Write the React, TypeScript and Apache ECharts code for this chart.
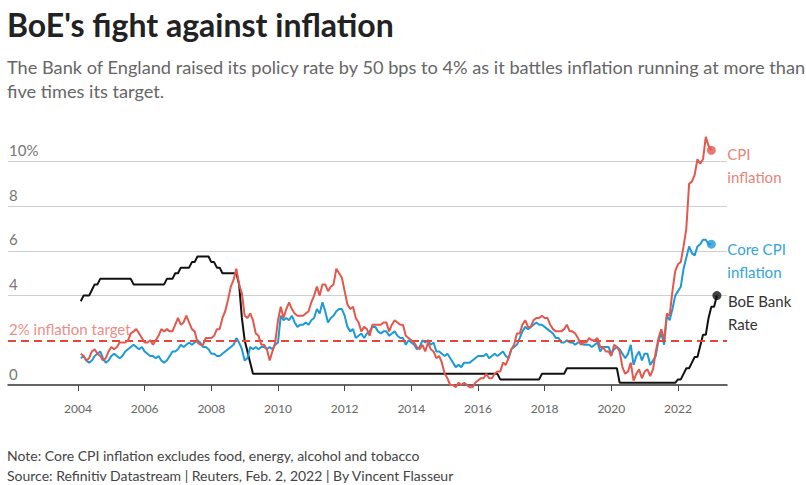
import React, { useEffect, useRef } from "react";
import * as echarts from "echarts";

// Monthly data, Jan 2004 onwards (each value plotted at the end of its month)
const START_YEAR = 2004;

const cpi = [
  1.4, 1.3, 1.1, 1.2, 1.5, 1.6, 1.4, 1.3, 1.1, 1.2, 1.5, 1.7,
  1.6, 1.7, 1.9, 1.9, 1.9, 2.0, 2.3, 2.4, 2.5, 2.3, 2.1, 1.9,
  1.9, 2.0, 1.8, 2.0, 2.2, 2.5, 2.4, 2.5, 2.4, 2.4, 2.7, 3.0,
  2.7, 2.8, 3.1, 2.8, 2.5, 2.4, 1.9, 1.8, 1.8, 2.1, 2.1, 2.1,
  2.2, 2.5, 2.5, 3.0, 3.3, 3.8, 4.4, 4.7, 5.2, 4.5, 4.1, 3.1,
  3.0, 3.2, 2.9, 2.3, 2.2, 1.8, 1.8, 1.6, 1.1, 1.5, 1.9, 2.9,
  3.5, 3.0, 3.4, 3.7, 3.4, 3.2, 3.1, 3.1, 3.1, 3.2, 3.3, 3.7,
  4.0, 4.4, 4.0, 4.5, 4.5, 4.2, 4.4, 4.5, 5.2, 5.0, 4.8, 4.2,
  3.6, 3.4, 3.5, 3.0, 2.8, 2.4, 2.6, 2.5, 2.2, 2.7, 2.7, 2.7,
  2.7, 2.8, 2.8, 2.4, 2.7, 2.9, 2.8, 2.7, 2.7, 2.2, 2.1, 2.0,
  1.9, 1.7, 1.6, 1.8, 1.5, 1.9, 1.6, 1.5, 1.2, 1.3, 1.0, 0.5,
  0.3, 0.0, 0.0, -0.1, 0.1, 0.0, 0.1, 0.0, -0.1, -0.1, 0.1, 0.2,
  0.3, 0.3, 0.5, 0.3, 0.3, 0.5, 0.6, 0.6, 1.0, 0.9, 1.2, 1.6,
  1.8, 2.3, 2.3, 2.7, 2.9, 2.6, 2.6, 2.9, 3.0, 3.0, 3.1, 3.0,
  3.0, 2.7, 2.5, 2.4, 2.4, 2.4, 2.5, 2.7, 2.4, 2.4, 2.3, 2.1,
  1.8, 1.9, 1.9, 2.1, 2.0, 2.0, 2.1, 1.7, 1.7, 1.5, 1.5, 1.3,
  1.8, 1.7, 1.5, 0.8, 0.5, 0.6, 1.0, 0.2, 0.5, 0.7, 0.3, 0.6,
  0.7, 0.4, 0.7, 1.5, 2.1, 2.5, 2.0, 3.2, 3.1, 4.2, 5.1, 5.4,
  5.5, 6.2, 7.0, 9.0, 9.1, 9.4, 10.1, 9.9, 10.1, 11.1, 10.7, 10.5,
];

const coreCpi = [
  1.2, 1.3, 1.1, 1.0, 1.1, 1.3, 1.4, 1.5, 1.2, 1.0, 1.1, 1.3,
  1.4, 1.3, 1.2, 1.3, 1.5, 1.6, 1.7, 1.8, 1.7, 1.6, 1.7, 1.5,
  1.4, 1.3, 1.3, 1.2, 1.3, 1.1, 1.0, 1.1, 1.3, 1.5, 1.5, 1.6,
  1.8, 1.7, 1.8, 1.9, 1.8, 1.9, 2.0, 1.9, 1.7, 1.7, 1.6, 1.4,
  1.4, 1.3, 1.3, 1.4, 1.5, 1.6, 1.7, 1.8, 2.1, 1.9, 1.6, 1.1,
  1.2, 1.7, 1.6, 1.7, 1.6, 1.7, 1.7, 1.6, 1.7, 1.6, 1.8, 1.9,
  3.1, 2.9, 3.0, 2.9, 3.1, 2.8, 2.6, 2.7, 2.7, 2.8, 2.7, 2.9,
  3.0, 3.4, 3.2, 3.7, 3.3, 2.8, 3.0, 3.1, 3.3, 3.4, 3.4, 3.1,
  2.6, 2.4, 2.5, 2.1, 2.2, 2.3, 2.1, 2.3, 2.4, 2.6, 2.6, 2.4,
  2.3, 2.4, 2.4, 2.2, 2.3, 2.4, 2.2, 2.1, 2.1, 1.8, 2.0, 1.9,
  1.8, 1.6, 1.7, 2.0, 1.9, 2.0, 1.8, 1.9, 1.5, 1.5, 1.4, 1.3,
  1.4, 1.2, 1.0, 0.8, 0.9, 0.8, 1.0, 1.0, 1.0, 1.1, 1.2, 1.3,
  1.3, 1.3, 1.4, 1.2, 1.3, 1.4, 1.3, 1.4, 1.5, 1.3, 1.2, 1.6,
  1.7, 1.8, 2.1, 2.4, 2.6, 2.5, 2.6, 2.7, 2.8, 2.7, 2.7, 2.6,
  2.5, 2.4, 2.3, 2.1, 2.1, 1.9, 1.9, 2.0, 1.9, 1.9, 1.8, 1.9,
  1.9, 1.8, 1.8, 1.8, 1.7, 1.8, 1.9, 1.5, 1.7, 1.7, 1.7, 1.4,
  1.6, 1.7, 1.6, 1.4, 1.2, 1.4, 1.8, 0.9, 1.3, 1.5, 1.1, 1.4,
  1.4, 0.9, 1.1, 1.3, 2.0, 2.3, 1.8, 3.1, 2.9, 3.4, 4.0, 4.2,
  4.4, 5.2, 5.7, 6.2, 5.9, 5.8, 6.2, 6.3, 6.5, 6.5, 6.3, 6.3,
];

const bankRate = [
  3.75, 4.0, 4.0, 4.0, 4.25, 4.5, 4.5, 4.75, 4.75, 4.75, 4.75, 4.75,
  4.75, 4.75, 4.75, 4.75, 4.75, 4.75, 4.75, 4.5, 4.5, 4.5, 4.5, 4.5,
  4.5, 4.5, 4.5, 4.5, 4.5, 4.5, 4.5, 4.75, 4.75, 4.75, 5.0, 5.0,
  5.25, 5.25, 5.25, 5.25, 5.5, 5.5, 5.75, 5.75, 5.75, 5.75, 5.75, 5.5,
  5.5, 5.25, 5.25, 5.0, 5.0, 5.0, 5.0, 5.0, 5.0, 4.5, 3.0, 2.0,
  1.5, 1.0, 0.5, 0.5, 0.5, 0.5, 0.5, 0.5, 0.5, 0.5, 0.5, 0.5,
  0.5, 0.5, 0.5, 0.5, 0.5, 0.5, 0.5, 0.5, 0.5, 0.5, 0.5, 0.5,
  0.5, 0.5, 0.5, 0.5, 0.5, 0.5, 0.5, 0.5, 0.5, 0.5, 0.5, 0.5,
  0.5, 0.5, 0.5, 0.5, 0.5, 0.5, 0.5, 0.5, 0.5, 0.5, 0.5, 0.5,
  0.5, 0.5, 0.5, 0.5, 0.5, 0.5, 0.5, 0.5, 0.5, 0.5, 0.5, 0.5,
  0.5, 0.5, 0.5, 0.5, 0.5, 0.5, 0.5, 0.5, 0.5, 0.5, 0.5, 0.5,
  0.5, 0.5, 0.5, 0.5, 0.5, 0.5, 0.5, 0.5, 0.5, 0.5, 0.5, 0.5,
  0.5, 0.5, 0.5, 0.5, 0.5, 0.5, 0.5, 0.25, 0.25, 0.25, 0.25, 0.25,
  0.25, 0.25, 0.25, 0.25, 0.25, 0.25, 0.25, 0.25, 0.25, 0.25, 0.5, 0.5,
  0.5, 0.5, 0.5, 0.5, 0.5, 0.5, 0.5, 0.75, 0.75, 0.75, 0.75, 0.75,
  0.75, 0.75, 0.75, 0.75, 0.75, 0.75, 0.75, 0.75, 0.75, 0.75, 0.75, 0.75,
  0.75, 0.75, 0.1, 0.1, 0.1, 0.1, 0.1, 0.1, 0.1, 0.1, 0.1, 0.1,
  0.1, 0.1, 0.1, 0.1, 0.1, 0.1, 0.1, 0.1, 0.1, 0.1, 0.1, 0.25,
  0.25, 0.5, 0.75, 0.75, 1.0, 1.25, 1.25, 1.75, 2.25, 2.25, 3.0, 3.5,
  3.5, 4.0,
];

const yearTicks = [2004, 2006, 2008, 2010, 2012, 2014, 2016, 2018, 2020, 2022];
const yTickLabels: Record<number, string> = { 0: "0", 4: "4", 6: "6", 8: "8", 10: "10%" };
const seriesLabels = ["CPI\ninflation", "Core CPI\ninflation", "BoE Bank\nRate"];
const targetRate = 2;
const targetLabel = "2% inflation target";

const TITLE = "BoE's fight against inflation";
const SUBTITLE =
  "The Bank of England raised its policy rate by 50 bps to 4% as it battles inflation running at more than\nfive times its target.";
const FOOTNOTE =
  "Note: Core CPI inflation excludes food, energy, alcohol and tobacco\nSource: Refinitiv Datastream | Reuters, Feb. 2, 2022 | By Vincent Flasseur";

const FONT = "Lato";
const RED = "#e4574c";
const BLUE = "#1d9ad6";
const BLACK = "#111111";

function toPoints(values: number[]) {
  return values.map((v, i) => [START_YEAR + (i + 1) / 12, v]);
}

export default function App() {
  const ref = useRef<HTMLDivElement>(null);

  useEffect(() => {
    if (!ref.current) return;
    const chart = echarts.init(ref.current, null, { renderer: "svg" });

    const cpiPts = toPoints(cpi);
    const corePts = toPoints(coreCpi);
    const bankPts = toPoints(bankRate);

    const endLabel = (text: string, color: string, dy: number, dist: number) => ({
      show: true,
      formatter: () => text,
      color,
      fontFamily: FONT,
      fontSize: 15,
      lineHeight: 23,
      distance: dist,
      offset: [0, dy],
    });

    chart.setOption({
      animation: false,
      textStyle: { fontFamily: FONT },
      title: [
        {
          text: TITLE,
          left: 2,
          top: 3,
          textStyle: { fontFamily: FONT, fontSize: 32, fontWeight: "bold", color: "#222" },
        },
        {
          text: SUBTITLE,
          left: 2,
          top: 50,
          textStyle: { fontFamily: FONT, fontSize: 18.2, fontWeight: "normal", color: "#666", lineHeight: 24 },
        },
        {
          text: FOOTNOTE,
          left: 2,
          top: 440,
          textStyle: { fontFamily: FONT, fontSize: 14, fontWeight: "normal", color: "#444", lineHeight: 20 },
        },
      ],
      grid: { left: 8, right: 79, top: 116.8, bottom: 100, containLabel: false },
      xAxis: {
        type: "value",
        min: 2001.9,
        max: 2023.47,
        axisLine: { onZero: true, lineStyle: { color: "#333", width: 1.5 } },
        axisTick: { show: true, customValues: yearTicks, length: 6, lineStyle: { color: "#444", width: 1 } },
        axisLabel: {
          customValues: yearTicks,
          formatter: (v: number) => String(Math.round(v)),
          color: "#666",
          fontSize: 12,
          margin: 17,
          fontFamily: FONT,
        },
        splitLine: { show: false },
      },
      yAxis: {
        type: "value",
        min: 0,
        max: 12,
        interval: 2,
        axisLine: { show: false },
        axisTick: { show: false },
        axisLabel: {
          inside: true,
          margin: 1,
          verticalAlign: "bottom",
          padding: [0, 0, 4, 0],
          color: "#777",
          fontSize: 15,
          fontFamily: FONT,
          formatter: (v: number) => yTickLabels[v] ?? "",
        },
        splitLine: {
          lineStyle: {
            color: ["transparent", "transparent", "#cfcfcf", "#cfcfcf", "#cfcfcf", "#cfcfcf", "transparent"],
            width: 1,
          },
        },
      },
      series: [
        {
          type: "line",
          name: "BoE Bank Rate",
          data: bankPts,
          symbol: "none",
          clip: false,
          z: 3,
          lineStyle: { color: BLACK, width: 2 },
          endLabel: endLabel(seriesLabels[2], "#333", 17, 11),
        },
        {
          type: "line",
          name: "Core CPI inflation",
          data: corePts,
          symbol: "none",
          clip: false,
          z: 4,
          lineStyle: { color: BLUE, width: 2 },
          endLabel: endLabel(seriesLabels[1], "#35a3db", 16, 16),
        },
        {
          type: "line",
          name: "CPI inflation",
          data: cpiPts,
          symbol: "none",
          clip: false,
          z: 5,
          lineStyle: { color: RED, width: 2 },
          endLabel: endLabel(seriesLabels[0], "#e8847b", 15, 16),
          markLine: {
            silent: true,
            symbol: "none",
            data: [{ yAxis: targetRate }],
            lineStyle: { color: "#e2463c", type: [8, 5], width: 2 },
            label: {
              show: true,
              position: "insideStartTop",
              formatter: targetLabel,
              color: "#ec8e86",
              fontSize: 15,
              fontFamily: FONT,
              distance: [1, 4],
            },
          },
        },
        {
          type: "scatter",
          name: "latest",
          symbol: "circle",
          symbolSize: 9,
          z: 6,
          data: [
            { value: cpiPts[cpiPts.length - 1], itemStyle: { color: RED } },
            { value: corePts[corePts.length - 1], itemStyle: { color: BLUE } },
            { value: bankPts[bankPts.length - 1], itemStyle: { color: BLACK } },
          ],
        },
      ],
    });

    return () => chart.dispose();
  }, []);

  return <div ref={ref} style={{ width: 806, height: 485, position: "absolute", left: 0, top: 0 }} />;
}
